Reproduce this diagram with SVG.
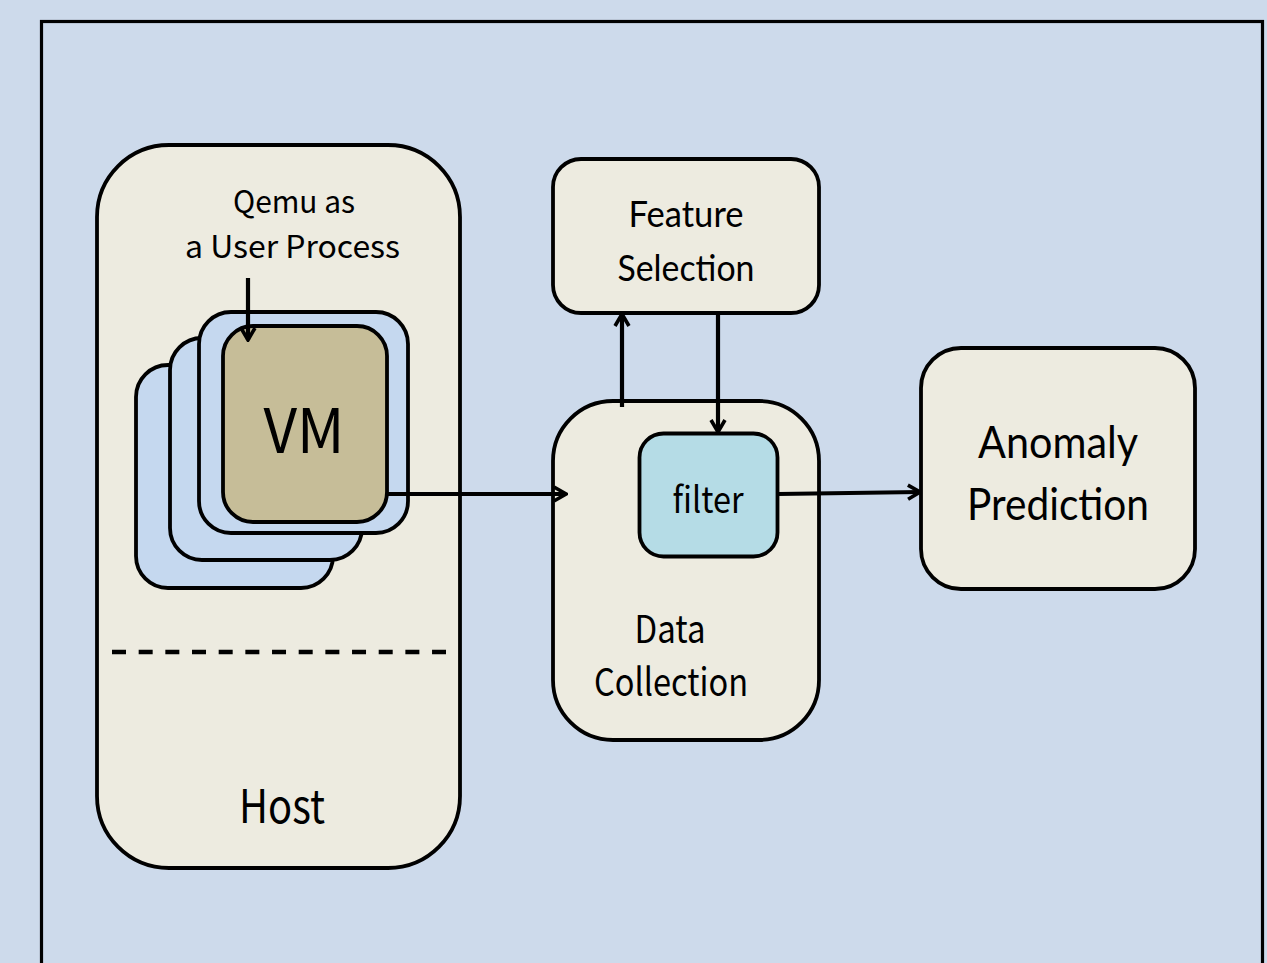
<svg xmlns="http://www.w3.org/2000/svg" width="1267" height="963" viewBox="0 0 1267 963">
<style>
.box{fill:#EDEBE0;stroke:#000;stroke-width:3.8}
.card{fill:#C5D8EF;stroke:#000;stroke-width:3.8}
.conn{stroke:#000;stroke-width:4.2;fill:none}
.g{font-family:"Noto Sans CJK JP","Noto Sans",sans-serif;fill:#000;text-anchor:middle}
.c{font-family:Lato,"Open Sans",sans-serif;fill:#000;text-anchor:middle}
</style>
<defs>
<marker id="ah" viewBox="0 0 16 18" refX="14" refY="9" markerWidth="16" markerHeight="18" markerUnits="userSpaceOnUse" orient="auto">
<path d="M2,2 L14,9 L2,16" fill="none" stroke="#000" stroke-width="3.6"/>
</marker>
</defs>
<rect x="0" y="0" width="1267" height="963" fill="#CDDAEB"/>
<rect x="41.5" y="21.5" width="1221" height="960" fill="none" stroke="#000" stroke-width="3.2"/>

<g id="host">
<rect class="box" x="97" y="145" width="363" height="723" rx="72"/>
<line x1="112" y1="652" x2="446" y2="652" stroke="#000" stroke-width="4.5" stroke-dasharray="14 12.67"/>
<text class="g" x="282" y="823" font-size="46" textLength="86" lengthAdjust="spacingAndGlyphs">Host</text>
</g>

<g id="qemu-label">
<text class="g" x="294" y="213" font-size="31" textLength="122" lengthAdjust="spacingAndGlyphs">Qemu as</text>
<text class="g" x="292.5" y="258" font-size="31" textLength="215" lengthAdjust="spacingAndGlyphs">a User Process</text>
</g>

<g id="vm-stack">
<rect class="card" x="136" y="365" width="197" height="223" rx="32"/>
<rect class="card" x="170" y="338" width="192" height="222" rx="32"/>
<rect class="card" x="199" y="312" width="209" height="221" rx="32"/>
</g>

<g id="vm">
<rect x="223" y="326" width="164" height="196" rx="30" fill="#C6BD98" stroke="#000" stroke-width="3.8"/>
<text class="g" x="304" y="453" font-size="62" textLength="81" lengthAdjust="spacingAndGlyphs">VM</text>
</g>

<g id="feature-selection">
<rect class="box" x="553" y="159" width="266" height="154" rx="28"/>
<text class="c" x="686" y="227" font-size="36" textLength="115" lengthAdjust="spacingAndGlyphs">Feature</text>
<text class="c" x="686" y="281" font-size="36" textLength="137" lengthAdjust="spacingAndGlyphs">Selection</text>
</g>

<g id="data-collection">
<rect class="box" x="553" y="401" width="266" height="339" rx="60"/>
<text class="g" x="670" y="643" font-size="38" textLength="71" lengthAdjust="spacingAndGlyphs">Data</text>
<text class="g" x="671" y="696" font-size="38" textLength="154" lengthAdjust="spacingAndGlyphs">Collection</text>
</g>

<g id="filter">
<rect x="639.5" y="433.5" width="138" height="123" rx="24" fill="#B5DCE6" stroke="#000" stroke-width="3.8"/>
<text class="g" x="708" y="513" font-size="36" textLength="71" lengthAdjust="spacingAndGlyphs">filter</text>
</g>

<g id="anomaly-prediction">
<rect class="box" x="921" y="348" width="274" height="241" rx="40"/>
<text class="c" x="1058" y="458" font-size="44" textLength="160" lengthAdjust="spacingAndGlyphs">Anomaly</text>
<text class="c" x="1058" y="520" font-size="44" textLength="182" lengthAdjust="spacingAndGlyphs">Prediction</text>
</g>

<g id="connectors">
<line class="conn" x1="248" y1="278" x2="248" y2="340" marker-end="url(#ah)"/>
<line class="conn" x1="386" y1="494" x2="566" y2="494" marker-end="url(#ah)"/>
<line class="conn" x1="622" y1="407" x2="622" y2="314" marker-end="url(#ah)"/>
<line class="conn" x1="718" y1="313" x2="718" y2="432" marker-end="url(#ah)"/>
<line class="conn" x1="778" y1="494" x2="920" y2="492" marker-end="url(#ah)"/>
</g>
</svg>
